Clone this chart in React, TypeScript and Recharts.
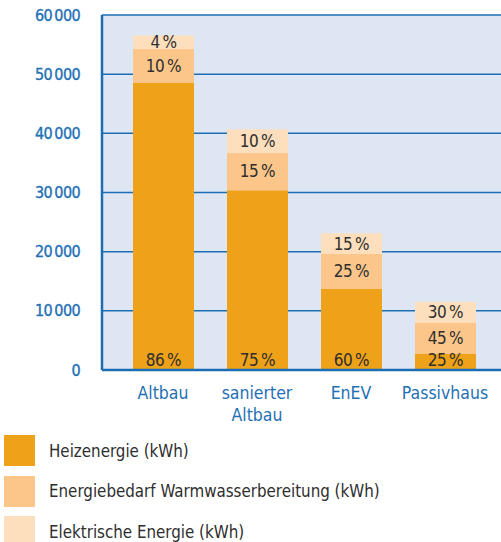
import React from "react";
import { BarChart, Bar, XAxis, YAxis, CartesianGrid, LabelList, Legend } from "recharts";

const categories = ["Altbau", "sanierter Altbau", "EnEV", "Passivhaus"];
const heatValues = [48500, 30400, 13700, 2700];
const waterValues = [5750, 6300, 5900, 5250];
const elecValues = [2300, 4000, 3500, 3600];
const heatPct = [86, 75, 60, 25];
const waterPct = [10, 15, 25, 45];
const elecPct = [4, 10, 15, 30];
const yTicks = [0, 10000, 20000, 30000, 40000, 50000, 60000];
const seriesNames = [
  "Heizenergie (kWh)",
  "Energiebedarf Warmwasserbereitung (kWh)",
  "Elektrische Energie (kWh)",
];

const data = categories.map((c, i) => ({
  name: c,
  heat: heatValues[i],
  water: waterValues[i],
  elec: elecValues[i],
  heatPct: heatPct[i],
  waterPct: waterPct[i],
  elecPct: elecPct[i],
}));

const FONT = '"Liberation Sans Narrow", "DejaVu Sans Condensed", "Arial Narrow", sans-serif';
const BLUE = "#1c6eb4";
const TEXT_BLUE = "#1f70b5";
const HEAT = "#eea21a";
const WATER = "#fcc68a";
const ELEC = "#fedfbd";
const BG = "#dfe6f3";
const DARK = "#2e2e2e";

const fmt = (v: number) => {
  if (v === 0) return "0";
  const s = String(v);
  return s.slice(0, s.length - 3) + "\u2009" + s.slice(-3);
};

const makeLabel = (atBottom: boolean) => (props: any) => {
  const { x, y, width, height, value } = props;
  const cx = Number(x) + Number(width) / 2;
  const cy = atBottom ? Number(y) + Number(height) - 10 : Number(y) + Number(height) / 2;
  return (
    <text
      x={cx}
      y={cy}
      textAnchor="middle"
      dominantBaseline="central"
      fill={DARK}
      fontFamily={FONT}
      fontSize={17}
      letterSpacing={-0.4}
    >
      {value + "\u2009%"}
    </text>
  );
};

const YTick = (props: any) => {
  const { x, y, payload } = props;
  return (
    <text
      x={x}
      y={y}
      textAnchor="end"
      dominantBaseline="central"
      fill={TEXT_BLUE}
      stroke={TEXT_BLUE}
      strokeWidth={0.35}
      fontFamily={FONT}
      fontSize={16}
      letterSpacing={-0.6}
    >
      {fmt(payload.value)}
    </text>
  );
};

const XTick = (props: any) => {
  const { x, y, payload } = props;
  const lines = String(payload.value).split(" ");
  return (
    <text x={x} y={y + 27} textAnchor="middle" fill={TEXT_BLUE} fontFamily={FONT} fontSize={17.5}>
      {lines.map((l, i) => (
        <tspan key={i} x={x} dy={i === 0 ? 0 : 21.5}>
          {l}
        </tspan>
      ))}
    </text>
  );
};

const renderLegend = (props: any) => {
  const payload = [...(props.payload || [])].sort(
    (a: any, b: any) => seriesNames.indexOf(a.value) - seriesNames.indexOf(b.value)
  );
  return (
    <div style={{ position: "relative", width: 501, height: 110 }}>
      {payload.map((p: any, i: number) => (
        <div
          key={i}
          style={{
            position: "absolute",
            left: 4,
            top: i * 40.5,
            height: 31,
            display: "flex",
            alignItems: "center",
          }}
        >
          <div style={{ width: 31, height: 31, background: p.color }} />
          <span
            style={{
              marginLeft: 14,
              fontFamily: FONT,
              fontSize: 16.8,
              color: DARK,
              whiteSpace: "nowrap",
            }}
          >
            {p.value}
          </span>
        </div>
      ))}
    </div>
  );
};

export default function App() {
  return (
    <div style={{ position: "absolute", left: 0, top: 0, width: 501, height: 542, background: "#fff" }}>
      <BarChart
        width={501}
        height={542}
        data={data}
        margin={{ top: 15, right: 0, left: 0, bottom: 12 }}
        barSize={61}
      >
        <CartesianGrid vertical={false} fill={BG} stroke={BLUE} strokeWidth={1.5} />
        <XAxis
          dataKey="name"
          height={50}
          padding={{ left: 14, right: 9 }}
          axisLine={{ stroke: BLUE, strokeWidth: 2.5 }}
          tickLine={false}
          tickSize={0}
          tick={<XTick />}
          interval={0}
        />
        <YAxis
          width={102}
          domain={[0, 60000]}
          ticks={yTicks}
          interval={0}
          axisLine={{ stroke: BLUE, strokeWidth: 2.5 }}
          tickLine={false}
          tickSize={0}
          tickMargin={22}
          tick={<YTick />}
        />
        <Legend
          verticalAlign="bottom"
          content={renderLegend}
          wrapperStyle={{ position: "absolute", left: 0, top: 435, width: 501, height: 110, bottom: "auto" }}
        />
        <Bar dataKey="heat" name={seriesNames[0]} stackId="a" fill={HEAT} isAnimationActive={false}>
          <LabelList dataKey="heatPct" content={makeLabel(true)} />
        </Bar>
        <Bar dataKey="water" name={seriesNames[1]} stackId="a" fill={WATER} isAnimationActive={false}>
          <LabelList dataKey="waterPct" content={makeLabel(false)} />
        </Bar>
        <Bar dataKey="elec" name={seriesNames[2]} stackId="a" fill={ELEC} isAnimationActive={false}>
          <LabelList dataKey="elecPct" content={makeLabel(false)} />
        </Bar>
      </BarChart>
    </div>
  );
}
